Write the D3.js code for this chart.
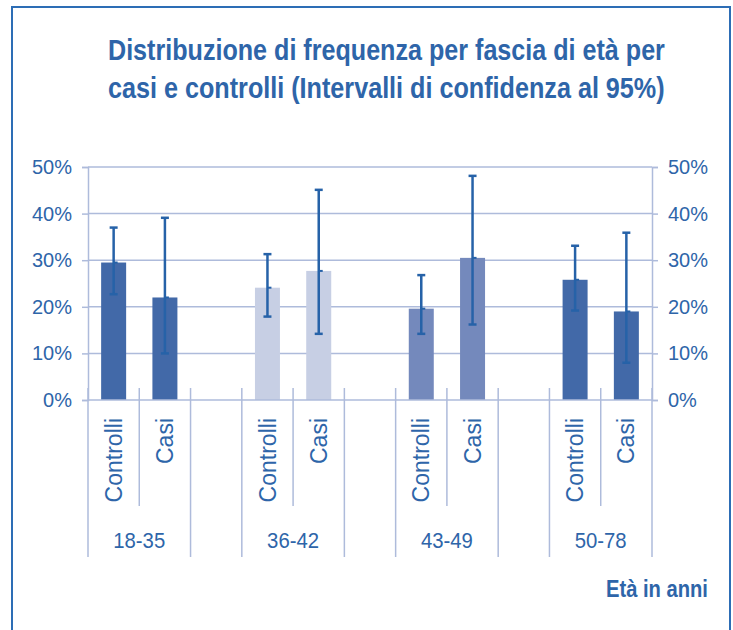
<!DOCTYPE html>
<html>
<head>
<meta charset="utf-8">
<script src="https://cdnjs.cloudflare.com/ajax/libs/d3/7.8.5/d3.min.js"></script>
<style>
  body { margin: 0; background: #fff; }
  #vis text { font-family: "Liberation Sans", Arial, sans-serif; fill: #2e65a9; }
  #vis .title { font-family: "Liberation Sans", Arial, sans-serif; font-weight: bold; }
</style>
</head>
<body>
<div id="vis"></div>
<script>
var titleLines = ["Distribuzione di frequenza per fascia di età per",
                  "casi e controlli (Intervalli di confidenza al 95%)"];
var groups = ["18-35", "36-42", "43-49", "50-78"];
var series = ["Controlli", "Casi"];
var controlli = [29.5, 24.1, 19.6, 25.8];
var controlliLow = [22.7, 17.9, 14.2, 19.2];
var controlliHigh = [37.0, 31.3, 26.8, 33.1];
var casi = [22.0, 27.7, 30.5, 19.0];
var casiLow = [10.0, 14.2, 16.2, 8.0];
var casiHigh = [39.1, 45.1, 48.1, 35.9];
var groupColors = ["#4269a8", "#c7cfe4", "#7489bc", "#4269a8"];
var yTicks = [0, 10, 20, 30, 40, 50];
var xTitle = "Età in anni";

// squeeze a text horizontally so it spans the wanted width (condensed look)
function squeeze(sel, x, y, wanted, anchor){
  sel.each(function(){
    var node = this;
    var w = node.getComputedTextLength();
    var sx = Math.min(1, wanted / w);
    var x0 = anchor == "middle" ? x - w * sx / 2 : x;
    d3.select(node).attr("x", 0).attr("y", 0).attr("text-anchor", "start")
      .attr("transform", "translate(" + x0 + "," + y + ") scale(" + sx + ",1)");
  });
}

function drawChart(){
  var width = 733, height = 630;
  var plotLeft = 88, plotRight = 652, plotTop = 167, plotBottom = 400;
  var gridColor = "#aebbdb";

  var svg = d3.select("#vis").append("svg")
    .attr("width", width).attr("height", height);

  // frame
  svg.append("rect")
    .attr("x", 12).attr("y", 7).attr("width", 718).attr("height", 660)
    .attr("fill", "none").attr("stroke", "#2d6db5").attr("stroke-width", 2);

  // title
  titleLines.forEach(function(line, i){
    svg.append("text").attr("class", "title")
      .attr("font-size", 29)
      .text(line)
      .call(squeeze, 108, 60 + i * 38, 557, "start");
  });

  // slots: two bars per group, an empty slot between groups
  var slots = [];
  groups.forEach(function(g, gi){
    series.forEach(function(s, si){
      slots.push({ key: g + "|" + s, group: gi, serie: s,
        value: si == 0 ? controlli[gi] : casi[gi],
        low: si == 0 ? controlliLow[gi] : casiLow[gi],
        high: si == 0 ? controlliHigh[gi] : casiHigh[gi] });
    });
    if(gi < groups.length - 1) slots.push({ key: "gap" + gi, group: -1 });
  });

  var x = d3.scaleBand().domain(slots.map(function(d){ return d.key; }))
    .range([plotLeft, plotRight]).padding(0);
  var y = d3.scaleLinear().domain([0, 50]).range([plotBottom, plotTop]);
  var bw = x.bandwidth();
  var barW = 25;

  // grid
  svg.selectAll(".grid").data(yTicks.filter(function(t){ return t > 0; })).enter().append("line")
    .attr("class", "grid")
    .attr("x1", plotLeft).attr("x2", plotRight)
    .attr("y1", function(d){ return y(d); }).attr("y2", function(d){ return y(d); })
    .attr("stroke", gridColor).attr("stroke-width", 1.5);

  // y axes both sides
  var yLeft = svg.append("g").attr("transform", "translate(" + plotLeft + ",0)")
    .call(d3.axisLeft(y).tickValues(yTicks).tickSize(6).tickPadding(10)
      .tickFormat(function(d){ return d + "%"; }));
  var yRight = svg.append("g").attr("transform", "translate(" + plotRight + ",0)")
    .call(d3.axisRight(y).tickValues(yTicks).tickSize(6).tickPadding(10)
      .tickFormat(function(d){ return d + "%"; }));
  [yLeft, yRight].forEach(function(ax){
    ax.selectAll(".domain").attr("stroke", gridColor).attr("stroke-width", 1.5);
    ax.selectAll(".tick line").attr("stroke", gridColor).attr("stroke-width", 1.5);
    ax.selectAll(".tick text").attr("font-size", 20).attr("fill", "#2e65a9")
      .attr("font-family", "Liberation Sans, Arial, sans-serif");
  });

  // bars
  var barSlots = slots.filter(function(d){ return d.group >= 0; });
  svg.selectAll(".bar").data(barSlots).enter().append("rect")
    .attr("class", "bar")
    .attr("x", function(d){ return x(d.key) + (bw - barW) / 2; })
    .attr("width", barW)
    .attr("y", function(d){ return y(d.value); })
    .attr("height", function(d){ return y(0) - y(d.value); })
    .attr("fill", function(d){ return groupColors[d.group]; });

  // baseline
  svg.append("line")
    .attr("x1", plotLeft).attr("x2", plotRight).attr("y1", y(0)).attr("y2", y(0))
    .attr("stroke", gridColor).attr("stroke-width", 1.5);

  // error bars
  var errColor = "#2662a8";
  var err = svg.selectAll(".err").data(barSlots).enter().append("g").attr("class", "err")
    .attr("transform", function(d){ return "translate(" + (x(d.key) + bw / 2) + ",0)"; });
  err.append("line")
    .attr("y1", function(d){ return y(d.low); }).attr("y2", function(d){ return y(d.high); })
    .attr("stroke", errColor).attr("stroke-width", 2.5);
  err.append("line")
    .attr("x1", -4).attr("x2", 4)
    .attr("y1", function(d){ return y(d.high); }).attr("y2", function(d){ return y(d.high); })
    .attr("stroke", errColor).attr("stroke-width", 2.5);
  err.append("line")
    .attr("x1", -4).attr("x2", 4)
    .attr("y1", function(d){ return y(d.low); }).attr("y2", function(d){ return y(d.low); })
    .attr("stroke", errColor).attr("stroke-width", 2.5);
  err.append("line")
    .attr("x1", 0).attr("x2", 4)
    .attr("y1", function(d){ return y(d.value); }).attr("y2", function(d){ return y(d.value); })
    .attr("stroke", errColor).attr("stroke-width", 2);

  // category separators (short inside groups, long between groups)
  var bounds = [];
  slots.forEach(function(d, i){
    var prev = slots[i - 1];
    var isLong = i == 0 || d.group < 0 || prev.group < 0;
    bounds.push({ x: x(d.key), long: isLong });
  });
  bounds.push({ x: plotRight, long: true });
  svg.selectAll(".sep").data(bounds).enter().append("line")
    .attr("class", "sep")
    .attr("x1", function(d){ return d.x; }).attr("x2", function(d){ return d.x; })
    .attr("y1", plotBottom - 12)
    .attr("y2", function(d){ return d.long ? 557 : 506; })
    .attr("stroke", gridColor).attr("stroke-width", 1.5);

  // series labels, rotated
  svg.selectAll(".cat").data(barSlots).enter().append("text")
    .attr("class", "cat")
    .attr("transform", function(d){ return "translate(" + (x(d.key) + bw / 2) + ",418) rotate(-90)"; })
    .attr("text-anchor", "end")
    .attr("dy", "0.35em")
    .attr("font-size", 23)
    .text(function(d){ return d.serie; });

  // group labels
  groups.forEach(function(g){
    var cx = (x(g + "|" + series[0]) + x(g + "|" + series[1]) + bw) / 2;
    svg.append("text").attr("class", "grp")
      .attr("font-size", 22)
      .text(g)
      .call(squeeze, cx, 548, 52, "middle");
  });

  // x axis title
  svg.append("text")
    .attr("class", "title")
    .attr("font-size", 23)
    .text(xTitle)
    .call(squeeze, 606, 597, 102, "start");
}

drawChart();
</script>
</body>
</html>
